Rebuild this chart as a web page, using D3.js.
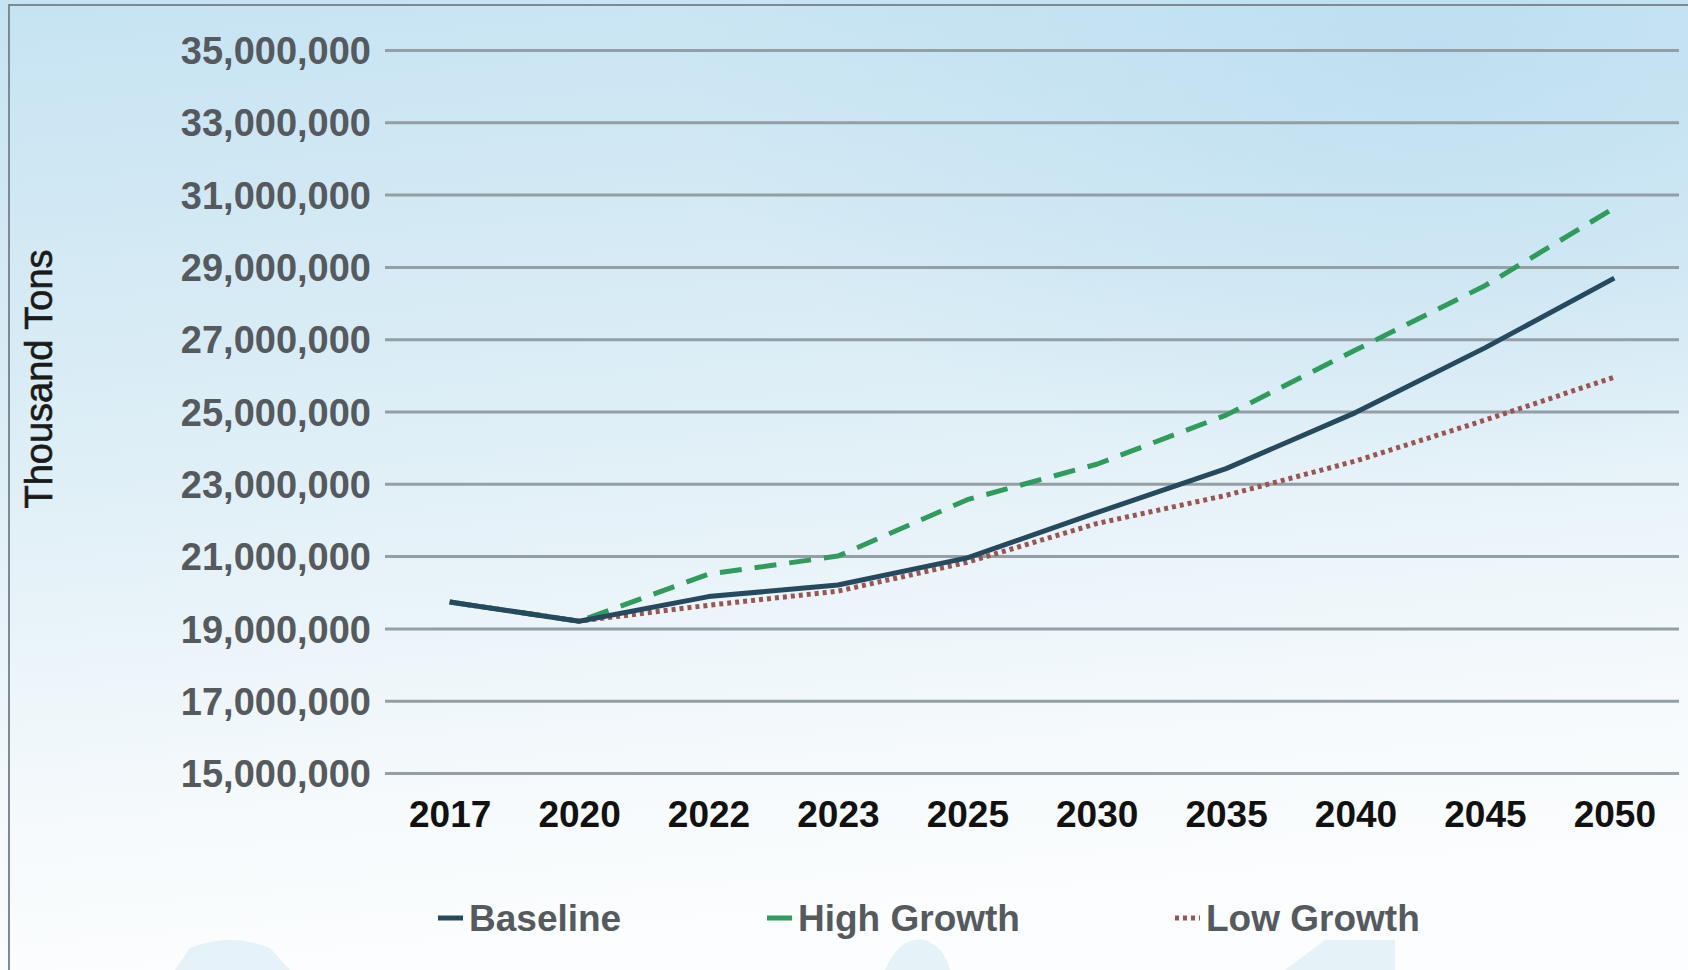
<!DOCTYPE html>
<html>
<head>
<meta charset="utf-8">
<script src="https://cdn.jsdelivr.net/npm/d3@7"></script>
<style>
  html, body { margin: 0; padding: 0; background: #fff; }
  svg { display: block; }
</style>
</head>
<body>
<div id="chart"></div>
<script>
// chart data
const years = ["2017", "2020", "2022", "2023", "2025", "2030", "2035", "2040", "2045", "2050"];
const baseline = [19730000, 19200000, 19880000, 20200000, 20950000, 22200000, 23420000, 24970000, 26760000, 28690000];
const highGrowth = [19730000, 19200000, 20500000, 21000000, 22560000, 23540000, 24900000, 26700000, 28480000, 30630000];
const lowGrowth = [19730000, 19200000, 19640000, 20030000, 20830000, 21900000, 22680000, 23630000, 24760000, 25950000];
const yTicks = [15000000, 17000000, 19000000, 21000000, 23000000, 25000000, 27000000, 29000000, 31000000, 33000000, 35000000];

const series = [
    { name: "Baseline", values: baseline, color: "#254a5e", dash: null },
    { name: "High Growth", values: highGrowth, color: "#2f9b5d", dash: "22,13" },
    { name: "Low Growth", values: lowGrowth, color: "#9a5552", dash: "4,4" }
];

const W = 1688, H = 970;
const plot = { left: 385, right: 1679, top: 50, bottom: 773 };
const font = "'Liberation Sans', Arial, sans-serif";

const svg = d3.select("#chart").append("svg")
    .attr("width", W)
    .attr("height", H);

// background gradient
const defs = svg.append("defs");
const bg = defs.append("linearGradient")
    .attr("id", "bg")
    .attr("x1", 0).attr("y1", 0).attr("x2", 0.15).attr("y2", 1);
bg.append("stop").attr("offset", "0%").attr("stop-color", "#c6e3f2");
bg.append("stop").attr("offset", "45%").attr("stop-color", "#ddeef6");
bg.append("stop").attr("offset", "85%").attr("stop-color", "#f6fafc");
bg.append("stop").attr("offset", "100%").attr("stop-color", "#fbfdfe");

const glow = defs.append("radialGradient")
    .attr("id", "glow")
    .attr("cx", 0.85).attr("cy", 0.05).attr("r", 0.45);
glow.append("stop").attr("offset", "0%").attr("stop-color", "#b8dcf0").attr("stop-opacity", 0.7);
glow.append("stop").attr("offset", "100%").attr("stop-color", "#b8dcf0").attr("stop-opacity", 0);

svg.append("rect").attr("width", W).attr("height", H).attr("fill", "url(#bg)");
svg.append("rect").attr("width", W).attr("height", H).attr("fill", "url(#glow)");

// faint silhouettes along the bottom
const sil = svg.append("g").attr("fill", "#dbecf5").attr("opacity", 0.7);
sil.append("path").attr("d", "M175,970 L190,948 Q230,932 270,948 L290,970 Z");
sil.append("path").attr("d", "M885,970 Q900,935 925,940 Q945,948 950,970 Z");
sil.append("path").attr("d", "M1285,970 L1325,940 L1395,940 L1395,970 Z");

// frame
svg.append("path")
    .attr("d", `M9,${H} L9,5 L${W},5`)
    .attr("fill", "none")
    .attr("stroke", "#7d8a93")
    .attr("stroke-width", 2);

const x = d3.scalePoint()
    .domain(years)
    .range([plot.left, plot.right])
    .padding(0.5);

const y = d3.scaleLinear()
    .domain([15000000, 35000000])
    .range([plot.bottom, plot.top]);

// gridlines + y labels
const yAxis = svg.append("g")
    .attr("transform", `translate(${plot.left},0)`)
    .call(d3.axisLeft(y)
        .tickValues(yTicks)
        .tickSize(-(plot.right - plot.left))
        .tickPadding(14)
        .tickFormat(d3.format(",")));
yAxis.select(".domain").remove();
yAxis.selectAll(".tick line")
    .attr("stroke", "#939ea5")
    .attr("stroke-width", 3);
yAxis.selectAll(".tick text")
    .attr("fill", "#555a5e")
    .attr("font-family", font)
    .attr("font-weight", "bold")
    .attr("font-size", 38)
    .attr("dy", "0.36em");

// x labels
const xAxis = svg.append("g")
    .attr("transform", `translate(0,${plot.bottom})`)
    .call(d3.axisBottom(x).tickSize(0).tickPadding(28));
xAxis.select(".domain").remove();
xAxis.selectAll(".tick text")
    .attr("fill", "#111")
    .attr("font-family", font)
    .attr("font-weight", "bold")
    .attr("font-size", 37)
    .attr("dy", "0.71em");

// y title
svg.append("text")
    .attr("transform", `translate(52,379) rotate(-90)`)
    .attr("text-anchor", "middle")
    .attr("fill", "#1a1a1a")
    .attr("font-family", font)
    .attr("font-size", 38)
    .attr("stroke", "#1a1a1a")
    .attr("stroke-width", 0.6)
    .text("Thousand Tons");

// lines
const line = d3.line()
    .x((d, i) => x(years[i]))
    .y(d => y(d));

svg.append("g")
    .selectAll("path")
    .data(series.slice().reverse())
    .enter().append("path")
    .attr("d", d => line(d.values))
    .attr("fill", "none")
    .attr("stroke", d => d.color)
    .attr("stroke-width", d => d.dash === "4,4" ? 5 : 5)
    .attr("stroke-dasharray", d => d.dash)
    .attr("stroke-linejoin", "round");

// legend
const legendX = [438, 767, 1175];
const legend = svg.append("g")
    .selectAll("g")
    .data(series)
    .enter().append("g")
    .attr("transform", (d, i) => `translate(${legendX[i]},918)`);
legend.append("line")
    .attr("x1", 0).attr("x2", 25)
    .attr("stroke", d => d.color)
    .attr("stroke-width", 5)
    .attr("stroke-dasharray", d => d.dash === "4,4" ? "4,4" : null);
legend.append("text")
    .attr("x", 31)
    .attr("dy", "0.36em")
    .attr("fill", "#555a5e")
    .attr("font-family", font)
    .attr("font-weight", "bold")
    .attr("font-size", 37)
    .text(d => d.name);
</script>
</body>
</html>
